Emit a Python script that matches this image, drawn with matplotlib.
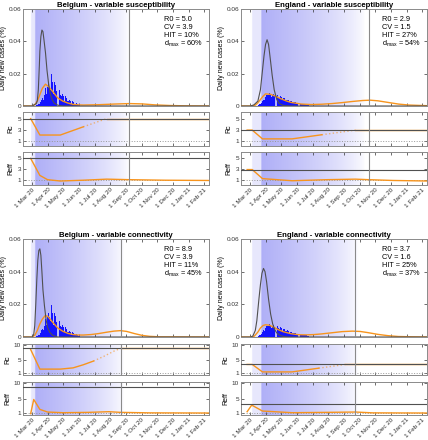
import numpy as np
import matplotlib.pyplot as plt
import matplotlib.dates as mdates

plt.rcParams['font.family'] = ['Liberation Sans', 'DejaVu Sans']

start = np.datetime64('2020-03-01')
x_lo, x_hi = np.datetime64('2020-02-12'), np.datetime64('2021-02-10')

# daily reported new cases (% of population, x 1e-3), from 1 Mar 2020
belgium_cases = [
    0, 0, 0, 0.1, 0.2, 0.3, 0.1,
    0.2, 0.4, 0.6, 0.8, 1.0, 1.5, 0.9,
    1.2, 1.5, 2.5, 3.0, 4.0, 4.5, 5.0,
    3.5, 4.0, 6.0, 6.5, 10.0, 11.0, 10.0,
    7.5, 7.0, 12.0, 13.0, 15.0, 16.0, 12.0,
    8.0, 10.0, 17.0, 19.5, 16.0, 15.0, 11.0,
    7.5, 9.0, 15.0, 14.5, 13.0, 12.0, 9.0,
    6.0, 8.0, 12.0, 10.5, 10.0, 9.0, 6.5,
    4.5, 6.0, 8.5, 7.5, 7.0, 6.0, 4.5,
    3.0, 4.5, 6.0, 5.5, 5.0, 4.0, 3.0,
    2.0, 3.0, 4.0, 3.5, 3.0, 2.8, 2.0,
    1.5, 2.0, 3.0, 2.5, 2.2, 2.0, 1.5,
    1.0, 1.5, 2.0, 1.8, 1.5, 1.3, 1.0,
    0.7, 1.0, 1.3, 1.2, 1.0, 0.9, 0.6,
]
england_cases = [
    0, 0, 0, 0, 0, 0, 0,
    0.05, 0.1, 0.1, 0.15, 0.2, 0.3, 0.3,
    0.3, 0.5, 0.6, 0.8, 1.0, 1.3, 1.5,
    1.3, 1.8, 2.5, 3.0, 3.5, 4.0, 4.2,
    3.8, 4.5, 5.5, 6.5, 7.0, 7.5, 7.0,
    6.0, 6.5, 7.5, 8.0, 7.5, 7.0, 6.5,
    5.5, 6.0, 7.0, 7.8, 7.5, 7.0, 6.0,
    5.0, 5.5, 6.5, 7.0, 6.8, 6.5, 5.5,
    4.5, 5.0, 5.8, 6.0, 5.8, 5.5, 4.5,
    3.8, 4.2, 4.8, 5.0, 4.8, 4.5, 3.8,
    3.0, 3.5, 4.0, 4.0, 3.8, 3.5, 3.0,
    2.5, 2.8, 3.2, 3.2, 3.0, 2.8, 2.3,
    2.0, 2.2, 2.5, 2.5, 2.3, 2.2, 1.8,
    1.5, 1.7, 2.0, 2.0, 1.8, 1.7, 1.4,
    1.2, 1.3, 1.5, 1.5, 1.4, 1.3, 1.1,
    0.9, 1.0, 1.2, 1.2, 1.1, 1.0, 0.8,
    0.7, 0.8, 0.9, 0.9,
]

titles = ['Belgium - variable susceptibility', 'England - variable susceptibility',
          'Belgium - variable connectivity', 'England - variable connectivity']
r0_vals = [5.0, 2.9, 8.9, 3.7]
cv_vals = [3.9, 1.5, 3.9, 1.6]
hit_vals = [10, 27, 11, 25]
dmax_vals = [60, 54, 45, 37]

# days since 1 Mar 2020
release_day = [190, 232, 173, 206]   # vertical line
light_day = [-2, 4, -2, 4]
full_day = [6, 22, 6, 22]
fade_day = [190, 225, 180, 212]

# unmitigated epidemic (% per day)
noint_days = [
    [-20, 0, 8, 10, 12, 14, 15, 17, 19, 21, 23, 26, 29, 32, 35, 39, 43, 50, 60, 345],
    [-20, 0, 7, 15, 20, 23, 27, 30, 33, 36, 39, 43, 47, 52, 57, 65, 80, 345],
    [-20, 0, 3, 5, 7, 9, 11, 13, 15, 17, 19, 21, 24, 27, 30, 34, 40, 50, 345],
    [-20, 0, 5, 10, 13, 17, 20, 23, 26, 29, 32, 36, 40, 44, 48, 52, 57, 65, 75, 345],
]
noint_vals = [
    [0, 0, 0.0015, 0.0033, 0.010, 0.025, 0.034, 0.043, 0.047, 0.046, 0.041, 0.033,
     0.022, 0.014, 0.008, 0.004, 0.0018, 0.0005, 0, 0],
    [0, 0, 0.0006, 0.003, 0.010, 0.019, 0.031, 0.038, 0.041, 0.038, 0.030, 0.019,
     0.010, 0.004, 0.0015, 0.0003, 0, 0],
    [0, 0, 0.0015, 0.007, 0.020, 0.035, 0.047, 0.053, 0.054, 0.050, 0.040, 0.029,
     0.019, 0.011, 0.006, 0.003, 0.001, 0, 0],
    [0, 0, 0.0005, 0.004, 0.010, 0.023, 0.032, 0.039, 0.042, 0.040, 0.034, 0.023,
     0.014, 0.008, 0.0045, 0.0025, 0.0012, 0.0003, 0, 0],
]

# fitted model (% per day)
fit_days = [
    [-20, 0, 5, 10, 15, 20, 26, 32, 40, 50, 60, 70, 80, 90, 100, 130, 160, 190, 215,
     240, 270, 300, 345],
    [-20, 0, 10, 15, 20, 25, 30, 40, 50, 60, 70, 80, 100, 120, 140, 160, 180, 200,
     220, 235, 250, 270, 290, 310, 345],
    [-20, 0, 5, 10, 15, 20, 25, 30, 35, 40, 50, 60, 70, 80, 90, 100, 115, 130, 145,
     160, 173, 185, 200, 215, 230, 250, 345],
    [-20, 0, 8, 15, 20, 25, 30, 38, 46, 55, 65, 80, 95, 110, 125, 140, 160, 180, 200,
     215, 230, 250, 270, 290, 320, 345],
]
fit_vals = [
    [0, 0, 0.0008, 0.003, 0.007, 0.011, 0.0135, 0.012, 0.009, 0.005, 0.003, 0.0018,
     0.001, 0.0007, 0.0006, 0.0008, 0.0012, 0.0015, 0.0013, 0.0007, 0.0003, 0.0001, 0],
    [0, 0, 0.0005, 0.002, 0.004, 0.006, 0.0075, 0.0072, 0.006, 0.0045, 0.0032, 0.0022,
     0.0012, 0.0009, 0.0011, 0.0015, 0.0021, 0.0028, 0.0034, 0.0036, 0.0032, 0.0022,
     0.0012, 0.0006, 0.0002],
    [0, 0, 0.001, 0.004, 0.008, 0.011, 0.013, 0.0128, 0.011, 0.009, 0.0055, 0.0035,
     0.0022, 0.0015, 0.0012, 0.0012, 0.0015, 0.0021, 0.0029, 0.0036, 0.0039, 0.0034,
     0.0021, 0.0010, 0.0004, 0.0001, 0],
    [0, 0, 0.0005, 0.003, 0.0055, 0.007, 0.0075, 0.0072, 0.006, 0.0045, 0.0032, 0.002,
     0.0014, 0.0013, 0.0015, 0.0019, 0.0026, 0.0033, 0.0036, 0.0034, 0.0027, 0.0016,
     0.0008, 0.0003, 0.0001, 0],
]

# Rc: days, values and the (first, last) index of the faded stretch
rc_days = [
    [-3, 15, 55, 100, 146, 345],
    [-6, 4, 24, 82, 140, 206, 345],
    [-3, 15, 55, 80, 100, 120, 140, 160, 173, 345],
    [-6, 4, 24, 82, 134, 186, 345],
]
rc_vals = [
    [5.0, 2.0, 2.0, 3.5, 5.0, 5.0],
    [2.9, 2.9, 1.3, 1.3, 2.05, 2.9, 2.9],
    [8.5, 2.2, 2.2, 2.6, 3.6, 4.8, 6.3, 8.0, 8.9, 8.9],
    [3.7, 3.7, 1.3, 1.3, 2.5, 3.7, 3.7],
]
rc_fade = [(3, 4), (4, 5), (5, 8), (4, 5)]

reff_days = [
    [-3, 15, 30, 55, 100, 146, 190, 260, 345],
    [-6, 4, 24, 82, 150, 206, 232, 280, 345],
    [-3, 3, 15, 30, 60, 110, 150, 173, 230, 345],
    [-6, 3, 24, 82, 150, 206, 240, 345],
]
reff_vals = [
    [5.0, 1.8, 1.0, 0.75, 0.9, 1.1, 1.0, 0.9, 0.85],
    [2.9, 2.9, 1.2, 0.8, 1.0, 1.1, 1.0, 0.85, 0.75],
    [0.7, 5.0, 2.0, 1.2, 1.0, 1.1, 1.3, 1.1, 0.95, 0.9],
    [1.3, 3.3, 1.5, 1.0, 1.1, 1.2, 0.95, 0.9],
]

ORANGE = '#f7941d'
DARK = '#505050'
BLUE = '#1414ff'
FS = 4.6


def to_dates(days):
    return start + np.array(days).astype('timedelta64[D]')


def shade(ax, i, ylim):
    grid = np.arange(-30, 360)
    a = np.zeros(len(grid))
    a[(grid >= light_day[i]) & (grid < full_day[i])] = 0.3
    m = (grid >= full_day[i]) & (grid < fade_day[i])
    a[m] = (1 - (grid[m] - full_day[i]) / (fade_day[i] - full_day[i])) ** 0.7
    img = np.zeros((1, len(grid), 4))
    img[..., 0] = 0.69
    img[..., 1] = 0.69
    img[..., 2] = 0.97
    img[..., 3] = a
    x0 = mdates.date2num(to_dates([grid[0]])[0])
    x1 = mdates.date2num(to_dates([grid[-1]])[0])
    ax.imshow(img, extent=[x0, x1, ylim[0], ylim[1]], aspect='auto', zorder=0,
              interpolation='bilinear')


def style(ax, ylim, labels):
    ax.set_xlim(x_lo, x_hi)
    ax.set_ylim(*ylim)
    ax.xaxis.set_major_locator(mdates.MonthLocator())
    ax.xaxis.set_major_formatter(mdates.DateFormatter('1 %b %y'))
    ax.tick_params(labelsize=FS, direction='in', length=2, width=0.5, pad=1.5,
                   top=True, right=True, colors='#333333')
    for s in ax.spines.values():
        s.set_color('#8a8a8a')
        s.set_linewidth(0.7)
    if labels:
        plt.setp(ax.get_xticklabels(), rotation=45, ha='right',
                 rotation_mode='anchor')
    else:
        ax.set_xticklabels([])


fig = plt.figure(figsize=(4.28, 4.40), dpi=100)
W, H = 428, 440
col_x = [23, 241]
rows = [(9, 106, 112, 146, 152, 185), (239, 337, 344, 375, 382, 415)]

for i in range(4):
    r, c = divmod(i, 2)
    x0 = col_x[c]
    m0, m1, c0, c1, e0, e1 = rows[r]
    w = 186 / W
    ax_m = fig.add_axes([x0 / W, 1 - m1 / H, w, (m1 - m0) / H])
    ax_c = fig.add_axes([x0 / W, 1 - c1 / H, w, (c1 - c0) / H])
    ax_e = fig.add_axes([x0 / W, 1 - e1 / H, w, (e1 - e0) / H])

    cases = belgium_cases if c == 0 else england_cases
    r_ylim = (0, 6.2) if r == 0 else (0.3, 10.3)
    r_ticks = [1, 3, 5] if r == 0 else [1, 5, 10]

    # main panel
    ylim_m = (0, 0.06)
    shade(ax_m, i, ylim_m)
    ax_m.bar(to_dates(np.arange(len(cases))), np.array(cases) * 1e-3, width=0.9,
             color=BLUE, linewidth=0, zorder=2)
    ax_m.plot(to_dates(fit_days[i]), fit_vals[i], color=ORANGE, lw=1.0, zorder=3)
    ax_m.plot(to_dates(noint_days[i]), noint_vals[i], color=DARK, lw=0.8, zorder=4)
    ax_m.axvline(to_dates([release_day[i]])[0], color='#8a8a8a', lw=0.8, zorder=5)
    style(ax_m, ylim_m, False)
    ax_m.set_yticks([0, 0.02, 0.04, 0.06])
    ax_m.set_yticklabels(['0', '0.02', '0.04', '0.06'])
    ax_m.set_ylabel('Daily new cases (%)', fontsize=5, labelpad=1)
    ax_m.set_title(titles[i], fontsize=5.6, fontweight='bold', pad=1)
    tx = 0.76
    ax_m.text(tx, 0.89, f'R0 = {r0_vals[i]:.1f}', transform=ax_m.transAxes,
              fontsize=5.3, va='center')
    ax_m.text(tx, 0.81, f'CV = {cv_vals[i]:.1f}', transform=ax_m.transAxes,
              fontsize=5.3, va='center')
    ax_m.text(tx, 0.73, f'HIT = {hit_vals[i]}%', transform=ax_m.transAxes,
              fontsize=5.3, va='center')
    ax_m.text(tx, 0.64, r'd$_{\mathregular{max}}$' + f' = {dmax_vals[i]}%',
              transform=ax_m.transAxes, fontsize=5.3, va='center')

    # Rc panel
    shade(ax_c, i, r_ylim)
    ax_c.axhline(1, color='#999999', lw=0.7, ls=':', zorder=2)
    d = to_dates(rc_days[i])
    v = np.array(rc_vals[i])
    f0, f1 = rc_fade[i]
    ax_c.plot(d[:f0 + 1], v[:f0 + 1], color=ORANGE, lw=1.0, zorder=3)
    ax_c.plot(d[f0:f1 + 1], v[f0:f1 + 1], color=ORANGE, lw=1.0, ls=':', alpha=0.6,
              zorder=3)
    ax_c.plot(d[f1:], v[f1:], color=ORANGE, lw=1.0, zorder=3)
    ax_c.axhline(r0_vals[i], color=DARK, lw=0.8, zorder=4)
    ax_c.axvline(to_dates([release_day[i]])[0], color='#8a8a8a', lw=0.8, zorder=5)
    style(ax_c, r_ylim, False)
    ax_c.set_yticks(r_ticks)
    ax_c.set_ylabel('Rc', fontsize=5, labelpad=2)

    # Reff panel
    shade(ax_e, i, r_ylim)
    ax_e.axhline(1, color='#999999', lw=0.7, ls=':', zorder=2)
    ax_e.plot(to_dates(reff_days[i]), reff_vals[i], color=ORANGE, lw=1.0, zorder=3)
    ax_e.axhline(r0_vals[i], color=DARK, lw=0.8, zorder=4)
    ax_e.axvline(to_dates([release_day[i]])[0], color='#8a8a8a', lw=0.8, zorder=5)
    style(ax_e, r_ylim, True)
    ax_e.set_yticks(r_ticks)
    ax_e.set_ylabel('Reff', fontsize=5, labelpad=2)

fig.savefig('out.png', dpi=100)
